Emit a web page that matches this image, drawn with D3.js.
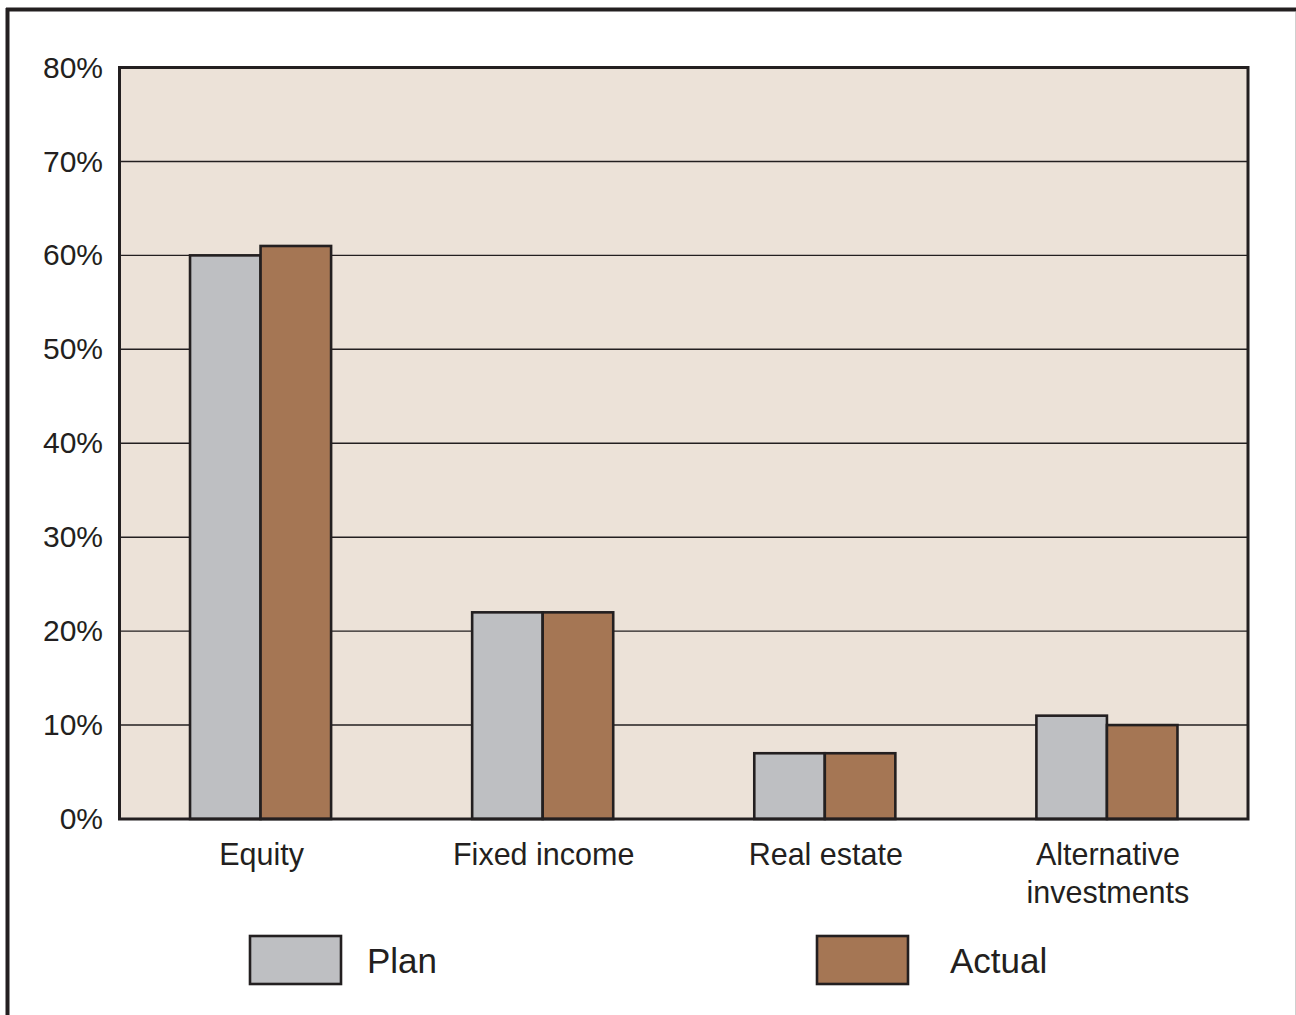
<!DOCTYPE html>
<html><head><meta charset="utf-8">
<script src="https://cdn.jsdelivr.net/npm/d3@7"></script>
<style>html,body{margin:0;padding:0;background:#fff;}svg{display:block;}</style>
</head><body>
<script>
const categories = ["Equity", "Fixed income", "Real estate", "Alternative investments"];
const categoryLines = [["Equity"], ["Fixed income"], ["Real estate"], ["Alternative", "investments"]];
const seriesNames = ["Plan", "Actual"];
const planValues = [60, 22, 7, 11];
const actualValues = [61, 22, 7, 10];
const yTicks = [0, 10, 20, 30, 40, 50, 60, 70, 80];
const seriesColors = ["#bebfc2", "#a57654"];

(function () {
const W = 1296, H = 1015;
const svg = d3.select("body").append("svg").attr("width", W).attr("height", H);
const ink = "#231f20";
const font = "'Liberation Sans', Arial, Helvetica, sans-serif";

// outer frame
svg.append("line").attr("x1", 7.5).attr("x2", 7.5).attr("y1", 8).attr("y2", H).attr("stroke", ink).attr("stroke-width", 4);
svg.append("line").attr("x1", 6).attr("x2", W).attr("y1", 9.5).attr("y2", 9.5).attr("stroke", ink).attr("stroke-width", 4);
svg.append("line").attr("x1", 1295.5).attr("x2", 1295.5).attr("y1", 12).attr("y2", H).attr("stroke", "#cfcfcf").attr("stroke-width", 1);

const pLeft = 119.5, pRight = 1248, pTop = 67.5, pBottom = 819;
const x = d3.scaleBand().domain(categories).range([pLeft, pRight]).paddingInner(0.5).paddingOuter(0.25);
const xs = d3.scaleBand().domain(seriesNames).range([0, x.bandwidth()]);
const y = d3.scaleLinear().domain([0, 80]).range([pBottom, pTop]);

// plot background
svg.append("rect").attr("x", pLeft).attr("y", pTop).attr("width", pRight - pLeft).attr("height", pBottom - pTop).attr("fill", "#ece2d8");

// gridlines
svg.append("g").selectAll("line").data(yTicks.filter(d => d > 0 && d < 80)).join("line")
  .attr("x1", pLeft).attr("x2", pRight).attr("y1", d => y(d)).attr("y2", d => y(d))
  .attr("stroke", ink).attr("stroke-width", 1.4);

// y axis labels
const yAxis = d3.axisLeft(y).tickValues(yTicks).tickFormat(d => d + "%").tickSize(0).tickPadding(0);
const yg = svg.append("g").attr("transform", `translate(103,0)`).call(yAxis);
yg.select(".domain").remove();
yg.selectAll("text").attr("font-family", font).attr("font-size", 30).attr("fill", ink).attr("dy", "0.32em");

// bars
const data = categories.map((c, i) => ({c, vals: [planValues[i], actualValues[i]]}));
const groups = svg.append("g").selectAll("g").data(data).join("g").attr("transform", d => `translate(${x(d.c)},0)`);
groups.selectAll("rect").data(d => d.vals.map((v, j) => ({v, s: seriesNames[j], j}))).join("rect")
  .attr("x", d => xs(d.s)).attr("width", xs.bandwidth())
  .attr("y", d => y(d.v)).attr("height", d => y(0) - y(d.v))
  .attr("fill", d => seriesColors[d.j]).attr("stroke", ink).attr("stroke-width", 2.6);

// plot border
svg.append("rect").attr("x", pLeft).attr("y", pTop).attr("width", pRight - pLeft).attr("height", pBottom - pTop)
  .attr("fill", "none").attr("stroke", ink).attr("stroke-width", 3);

// x labels
const xl = svg.append("g").selectAll("text").data(categories).join("text")
  .attr("x", (d) => x(d) + x.bandwidth() / 2 + 1).attr("y", 865)
  .attr("text-anchor", "middle").attr("font-family", font).attr("font-size", 30.5).attr("fill", ink);
xl.selectAll("tspan").data((d, i) => categoryLines[i]).join("tspan")
  .attr("x", function() { return d3.select(this.parentNode).attr("x"); })
  .attr("dy", (d, i) => i === 0 ? 0 : 38).text(d => d);

// legend
const legendX = [250, 817];
const lg = svg.append("g").selectAll("g").data(seriesNames).join("g").attr("transform", (d, i) => `translate(${legendX[i]},936)`);
lg.append("rect").attr("width", 91).attr("height", 48).attr("fill", (d, i) => seriesColors[i]).attr("stroke", ink).attr("stroke-width", 2.6);
lg.append("text").attr("x", (d, i) => i === 0 ? 117 : 133).attr("y", 37).attr("font-family", font).attr("font-size", 35).attr("fill", ink).text(d => d);
})();
</script>
</body></html>
